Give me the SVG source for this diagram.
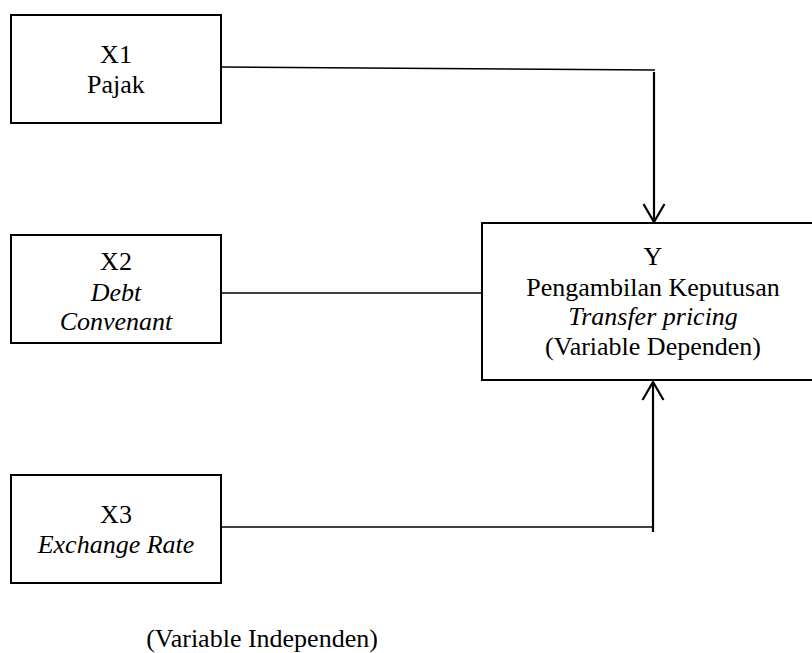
<svg xmlns="http://www.w3.org/2000/svg" width="812" height="653" viewBox="0 0 812 653">
<style>
.box{fill:#fff;stroke:#000;stroke-width:2}
.ln{fill:none;stroke:#000;stroke-width:1.5}
.vl{fill:none;stroke:#000;stroke-width:2.2}
.t{font-family:'Liberation Serif', 'DejaVu Serif', serif;font-size:26px;fill:#000;text-anchor:middle}
.it{font-style:italic}
</style>
<defs>
<marker id="ah" viewBox="0 0 20 24" refX="19" refY="12" markerWidth="20" markerHeight="24" markerUnits="userSpaceOnUse" orient="auto">
<path d="M1,1.5 L19,12 L1,22.5" fill="none" stroke="#000" stroke-width="2.2"/>
</marker>
</defs>
<rect width="812" height="653" fill="#fff"/>
<g id="connectors">
<path class="ln" d="M221,67 L655,70"/>
<path class="vl" d="M654,72 L654,222" marker-end="url(#ah)"/>
<path class="ln" d="M221,293 L482,293"/>
<path class="ln" d="M221,527 L653,527"/>
<path class="vl" d="M653,532 L653,382" marker-end="url(#ah)"/>
</g>
<g id="x1" class="t" font-family="Liberation Serif, serif">
<rect class="box" x="11" y="15" width="210" height="108"/>
<text x="116" y="63">X1</text>
<text x="116" y="93">Pajak</text>
</g>
<g id="x2" class="t" font-family="Liberation Serif, serif">
<rect class="box" x="11" y="235" width="210" height="108"/>
<text x="116" y="270">X2</text>
<text x="116" y="301" class="it">Debt</text>
<text x="116" y="330" class="it">Convenant</text>
</g>
<g id="x3" class="t" font-family="Liberation Serif, serif">
<rect class="box" x="11" y="475" width="210" height="108"/>
<text x="116" y="523">X3</text>
<text x="116" y="553" class="it">Exchange Rate</text>
</g>
<g id="y" class="t" font-family="Liberation Serif, serif">
<rect class="box" x="482" y="223" width="350" height="157"/>
<text x="653" y="265">Y</text>
<text x="653" y="296">Pengambilan Keputusan</text>
<text x="653" y="325" class="it">Transfer pricing</text>
<text x="653" y="355">(Variable Dependen)</text>
</g>
<g id="label" class="t" font-family="Liberation Serif, serif">
<text x="262" y="647">(Variable Independen)</text>
</g>
</svg>
